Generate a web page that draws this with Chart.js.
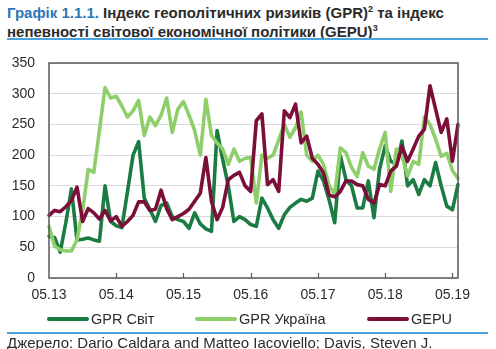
<!DOCTYPE html>
<html>
<head>
<meta charset="utf-8">
<script src="https://cdn.jsdelivr.net/npm/chart.js@4"></script>
<style>
  html, body { margin:0; padding:0; background:#fff; }
  body { width:496px; height:349px; position:relative; overflow:hidden; font-family:'Liberation Sans', Arial, sans-serif; }
  #title { position:absolute; left:7px; top:3px; font-weight:bold; font-size:15px; line-height:19px; color:#2b2b2b; white-space:nowrap; }
  #title .num { color:#2a78b8; }
  #title sup { font-size:9px; line-height:0; vertical-align:6px; }
  .rule { position:absolute; left:7px; width:481px; height:2px; background:#4ba3dc; }
  #legend { position:absolute; left:0; top:310px; width:496px; height:18px; font-size:14.5px; color:#2b2b2b; }
  .item { position:absolute; top:0; height:18px; line-height:18px; white-space:nowrap; }
  .swatch { position:absolute; top:7px; height:4px; border-radius:2px; }
  #source { position:absolute; left:7px; top:334px; font-size:15px; line-height:17px; color:#2b2b2b; white-space:nowrap; }
  canvas { position:absolute; left:0; top:0; }
</style>
</head>
<body>
<div id="title"><span class="num">Графік 1.1.1.</span> Індекс геополітичних ризиків (GPR)<sup>2</sup> та індекс<br>непевності світової економічної політики (GEPU)<sup>3</sup></div>
<div class="rule" style="top:38px"></div>
<canvas id="c" width="496" height="349"></canvas>
<div id="legend"></div>
<div class="rule" style="top:332px"></div>
<div id="source">Джерело: Dario Caldara and Matteo Iacoviello; Davis, Steven J.</div>
<script>
const categories = [
  '05.13','06.13','07.13','08.13','09.13','10.13','11.13','12.13',
  '01.14','02.14','03.14','04.14','05.14','06.14','07.14','08.14','09.14','10.14','11.14','12.14',
  '01.15','02.15','03.15','04.15','05.15','06.15','07.15','08.15','09.15','10.15','11.15','12.15',
  '01.16','02.16','03.16','04.16','05.16','06.16','07.16','08.16','09.16','10.16','11.16','12.16',
  '01.17','02.17','03.17','04.17','05.17','06.17','07.17','08.17','09.17','10.17','11.17','12.17',
  '01.18','02.18','03.18','04.18','05.18','06.18','07.18','08.18','09.18','10.18','11.18','12.18',
  '01.19','02.19','03.19','04.19','05.19','06.19'
];
const tickLabels = ['05.13','05.14','05.15','05.16','05.17','05.18','05.19'];
const seriesNames = ['GPR Світ','GPR Україна','GEPU'];
const seriesColors = ['#1b7c43','#8fcf6b','#7c0f3a'];

const gprWorld = [
  68,66,42,90,145,62,63,65,62,60,150,92,85,82,140,200,222,130,112,92,
  118,122,100,95,92,81,106,88,80,76,240,193,150,92,100,95,87,84,130,114,
  95,81,103,115,122,128,125,130,174,158,127,90,199,160,150,114,114,158,98,177,
  215,190,185,223,150,160,136,160,150,188,150,117,111,152
];
const gprUkraine = [
  84,52,46,44,44,62,110,177,172,240,310,293,296,280,262,272,289,232,262,248,
  265,293,237,275,287,265,240,200,291,232,220,210,185,210,190,195,196,122,200,195,
  200,225,250,229,245,270,200,190,200,185,150,136,212,204,180,165,204,182,177,210,
  237,141,210,199,166,190,185,262,250,226,198,203,175,162
];
const gepu = [
  102,110,108,116,126,148,92,113,106,96,110,93,100,84,92,102,124,124,110,112,
  143,113,95,100,105,112,125,138,196,125,95,115,160,167,172,150,141,256,267,152,
  160,141,272,261,283,220,231,195,185,171,135,132,141,158,158,152,150,128,122,152,
  150,174,182,215,190,210,231,242,313,275,237,259,190,250
];
const yMin = 0, yMax = 350, yStep = 50;

// HTML legend
const legendPos = [{line:47, w:42, text:91},{line:195, w:42, text:239},{line:367, w:42, text:411}];
const legend = document.getElementById('legend');
seriesNames.forEach((name, k) => {
  const sw = document.createElement('div');
  sw.className = 'swatch';
  sw.style.left = legendPos[k].line + 'px';
  sw.style.width = legendPos[k].w + 'px';
  sw.style.background = seriesColors[k];
  legend.appendChild(sw);
  const t = document.createElement('div');
  t.className = 'item';
  t.style.left = legendPos[k].text + 'px';
  t.textContent = name;
  legend.appendChild(t);
});

const framePlugin = {
  id: 'frame',
  afterDatasetsDraw(chart) {
    const {ctx, chartArea: a, scales: {x}} = chart;
    ctx.save();
    ctx.strokeStyle = '#5a5a5a';
    ctx.lineWidth = 1.5;
    ctx.strokeRect(a.left, a.top, a.right - a.left, a.bottom - a.top);
    ctx.lineWidth = 1.2;
    ctx.beginPath();
    categories.forEach((c, i) => {
      if (tickLabels.includes(c) && i > 0) {
        const px = Math.round(x.getPixelForValue(i)) + 0.5;
        ctx.moveTo(px, a.bottom);
        ctx.lineTo(px, a.bottom - 5);
      }
    });
    ctx.stroke();
    ctx.restore();
  }
};

const mk = (data, k) => ({
  label: seriesNames[k], data, borderColor: seriesColors[k], backgroundColor: seriesColors[k],
  borderWidth: 3.6, pointRadius: 0, tension: 0, fill: false,
  borderJoinStyle: 'round', borderCapStyle: 'round'
});

new Chart(document.getElementById('c'), {
  type: 'line',
  data: {
    labels: categories,
    // index 0 is drawn on top in Chart.js
    datasets: [mk(gepu, 2), mk(gprUkraine, 1), mk(gprWorld, 0)]
  },
  options: {
    responsive: false,
    animation: false,
    devicePixelRatio: 1,
    layout: { padding: { left: 0, top: 63, right: 38, bottom: 0 } },
    plugins: { legend: { display: false }, tooltip: { enabled: false } },
    scales: {
      x: {
        type: 'category',
        offset: false,
        grid: { display: false, drawTicks: false },
        border: { display: false },
        ticks: {
          autoSkip: false, maxRotation: 0, minRotation: 0, padding: 9,
          color: '#2b2b2b', font: { family: "'Liberation Sans', Arial", size: 14 },
          callback: (v, i) => tickLabels.includes(categories[i]) ? categories[i] : ''
        },
        afterFit: (s) => { s.height = 71; }
      },
      y: {
        min: yMin, max: yMax,
        grid: { color: '#d9d9d9', lineWidth: 1, drawTicks: false },
        border: { display: false },
        ticks: {
          stepSize: yStep, padding: 14, color: '#2b2b2b',
          font: { family: "'Liberation Sans', Arial", size: 14 }
        },
        afterFit: (s) => { s.width = 49; }
      }
    }
  },
  plugins: [framePlugin]
});
</script>
</body>
</html>
